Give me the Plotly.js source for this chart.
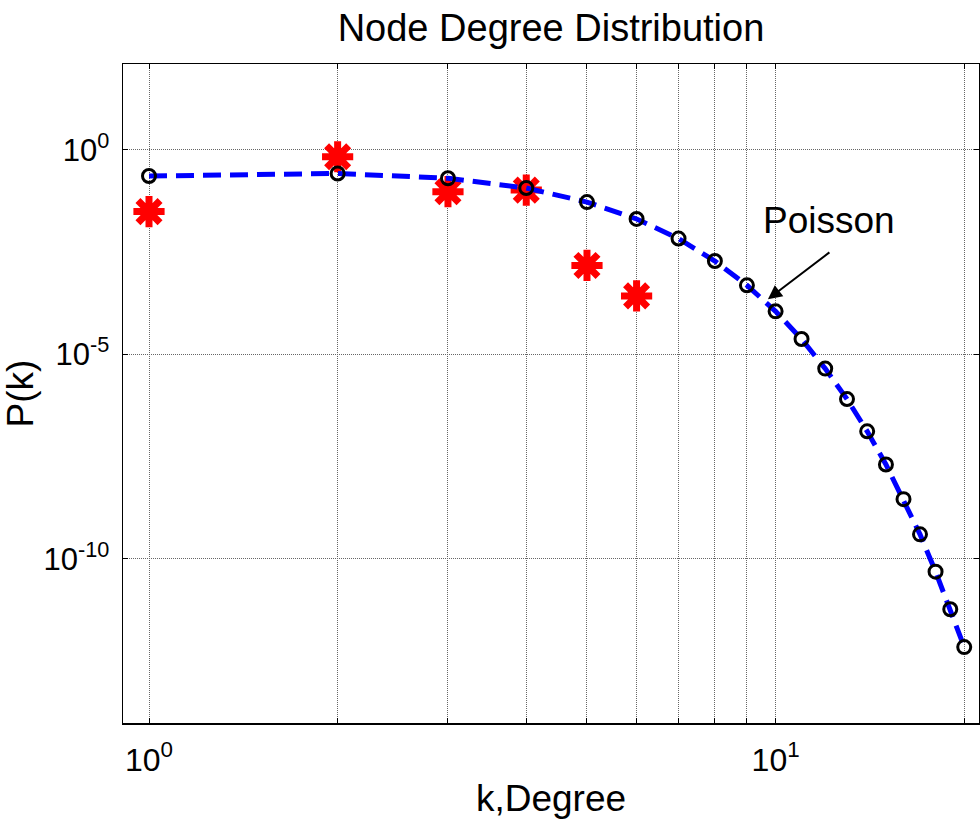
<!DOCTYPE html>
<html>
<head>
<meta charset="utf-8">
<script src="https://cdn.plot.ly/plotly-3.0.1.min.js"></script>
<style>html,body{margin:0;padding:0;background:#fff;}#chart{width:980px;height:819px;}</style>
</head>
<body>
<div id="chart"></div>
<script>
// Degree values k
const degrees = [1, 2, 3, 4, 5, 6, 7, 8, 9, 10, 11, 12, 13, 14, 15, 16, 17, 18, 19, 20];
// Poisson P(k)
const poissonP = [0.23, 0.265, 0.203, 0.117, 0.053, 0.0205, 0.0068, 0.00192, 0.00049, 0.000113,
                  0.0000238, 0.0000045, 0.00000081, 0.000000132, 0.0000000204, 0.0000000029,
                  0.0000000004, 0.000000000049, 0.0000000000059, 0.0000000000007];
// Observed degree distribution (red stars)
const obsDegrees = [1, 2, 3, 4, 5, 6];
const observedP = [0.031, 0.68, 0.095, 0.104, 0.0015, 0.00027];
// Tick labels
const xTickVals = [1, 2, 3, 4, 5, 6, 7, 8, 9, 10, 20];
const xTickText = ['10<sup>0</sup>', '', '', '', '', '', '', '', '', '10<sup>1</sup>', ''];
const yTickVals = [1, 1e-5, 1e-10];
const yTickText = ['10<sup>0</sup>', '10<sup>-5</sup>', '10<sup>-10</sup>'];

const FONT = 'Liberation Sans, Arial, sans-serif';

const traces = [
  {
    x: obsDegrees, y: observedP, mode: 'markers', type: 'scatter',
    marker: {symbol: 'asterisk-open', size: 26, color: '#ff0000', line: {color: '#ff0000', width: 7}},
    showlegend: false, hoverinfo: 'skip'
  },
  {
    x: degrees, y: poissonP, mode: 'lines', type: 'scatter',
    line: {color: '#0000ff', width: 5, dash: '18px,9px'},
    showlegend: false, hoverinfo: 'skip'
  },
  {
    x: degrees, y: poissonP, mode: 'markers', type: 'scatter',
    marker: {symbol: 'circle-open', size: 13, color: '#000000', line: {color: '#000000', width: 3}},
    showlegend: false, hoverinfo: 'skip'
  }
];

const layout = {
  width: 980, height: 819,
  margin: {l: 123, r: 1, t: 64, b: 96, pad: 0},
  paper_bgcolor: '#ffffff', plot_bgcolor: '#ffffff',
  font: {family: FONT, color: '#000000', size: 31},
  title: {text: 'Node Degree Distribution', font: {family: FONT, size: 38, color: '#000'},
          x: 0.5, xref: 'paper', xanchor: 'center', y: 0.966, yref: 'container', yanchor: 'middle'},
  xaxis: {
    type: 'log', range: [-0.0415, 1.3246], autorange: false,
    tickmode: 'array', tickvals: xTickVals, ticktext: xTickText,
    ticks: 'inside', ticklen: 5, tickcolor: '#000', tickwidth: 1,
    showline: true, linecolor: '#000', linewidth: 1.5, mirror: 'ticks',
    showgrid: true, gridcolor: '#666666', gridwidth: 1, griddash: '1px,1px',
    zeroline: false, ticklabelstandoff: 8,
    tickfont: {family: FONT, size: 32, color: '#000'},
    title: {text: 'k,Degree', font: {family: FONT, size: 37, color: '#000'}, standoff: 12}
  },
  yaxis: {
    type: 'log', range: [-14.01, 2.1], autorange: false,
    tickmode: 'array', tickvals: yTickVals, ticktext: yTickText,
    ticks: 'inside', ticklen: 5, tickcolor: '#000', tickwidth: 1,
    showline: true, linecolor: '#000', linewidth: 1.5, mirror: 'ticks',
    showgrid: true, gridcolor: '#666666', gridwidth: 1, griddash: '1px,1px',
    zeroline: false, ticklabelstandoff: 6,
    tickfont: {family: FONT, size: 31, color: '#000'},
    title: {text: 'P(k)', font: {family: FONT, size: 37, color: '#000'}, standoff: 0}
  },
  shapes: [
    {type: 'rect', xref: 'paper', yref: 'paper', x0: 0.7204, x1: 0.9842, y0: 0.7147, y1: 0.8103,
     fillcolor: '#ffffff', line: {width: 0}, layer: 'below'}
  ],
  annotations: [
    {xref: 'paper', yref: 'paper', x: 0.8249, y: 0.7618, text: 'Poisson', showarrow: false,
     xanchor: 'center', yanchor: 'middle', font: {family: FONT, size: 37, color: '#000'}},
    {xref: 'paper', yref: 'paper', x: 0.7534, y: 0.643, text: '', showarrow: true,
     ax: 63, ay: -48, arrowhead: 2, arrowsize: 1.4, arrowwidth: 2, arrowcolor: '#000'}
  ]
};

Plotly.newPlot('chart', traces, layout, {displayModeBar: false, staticPlot: true});
</script>
</body>
</html>
